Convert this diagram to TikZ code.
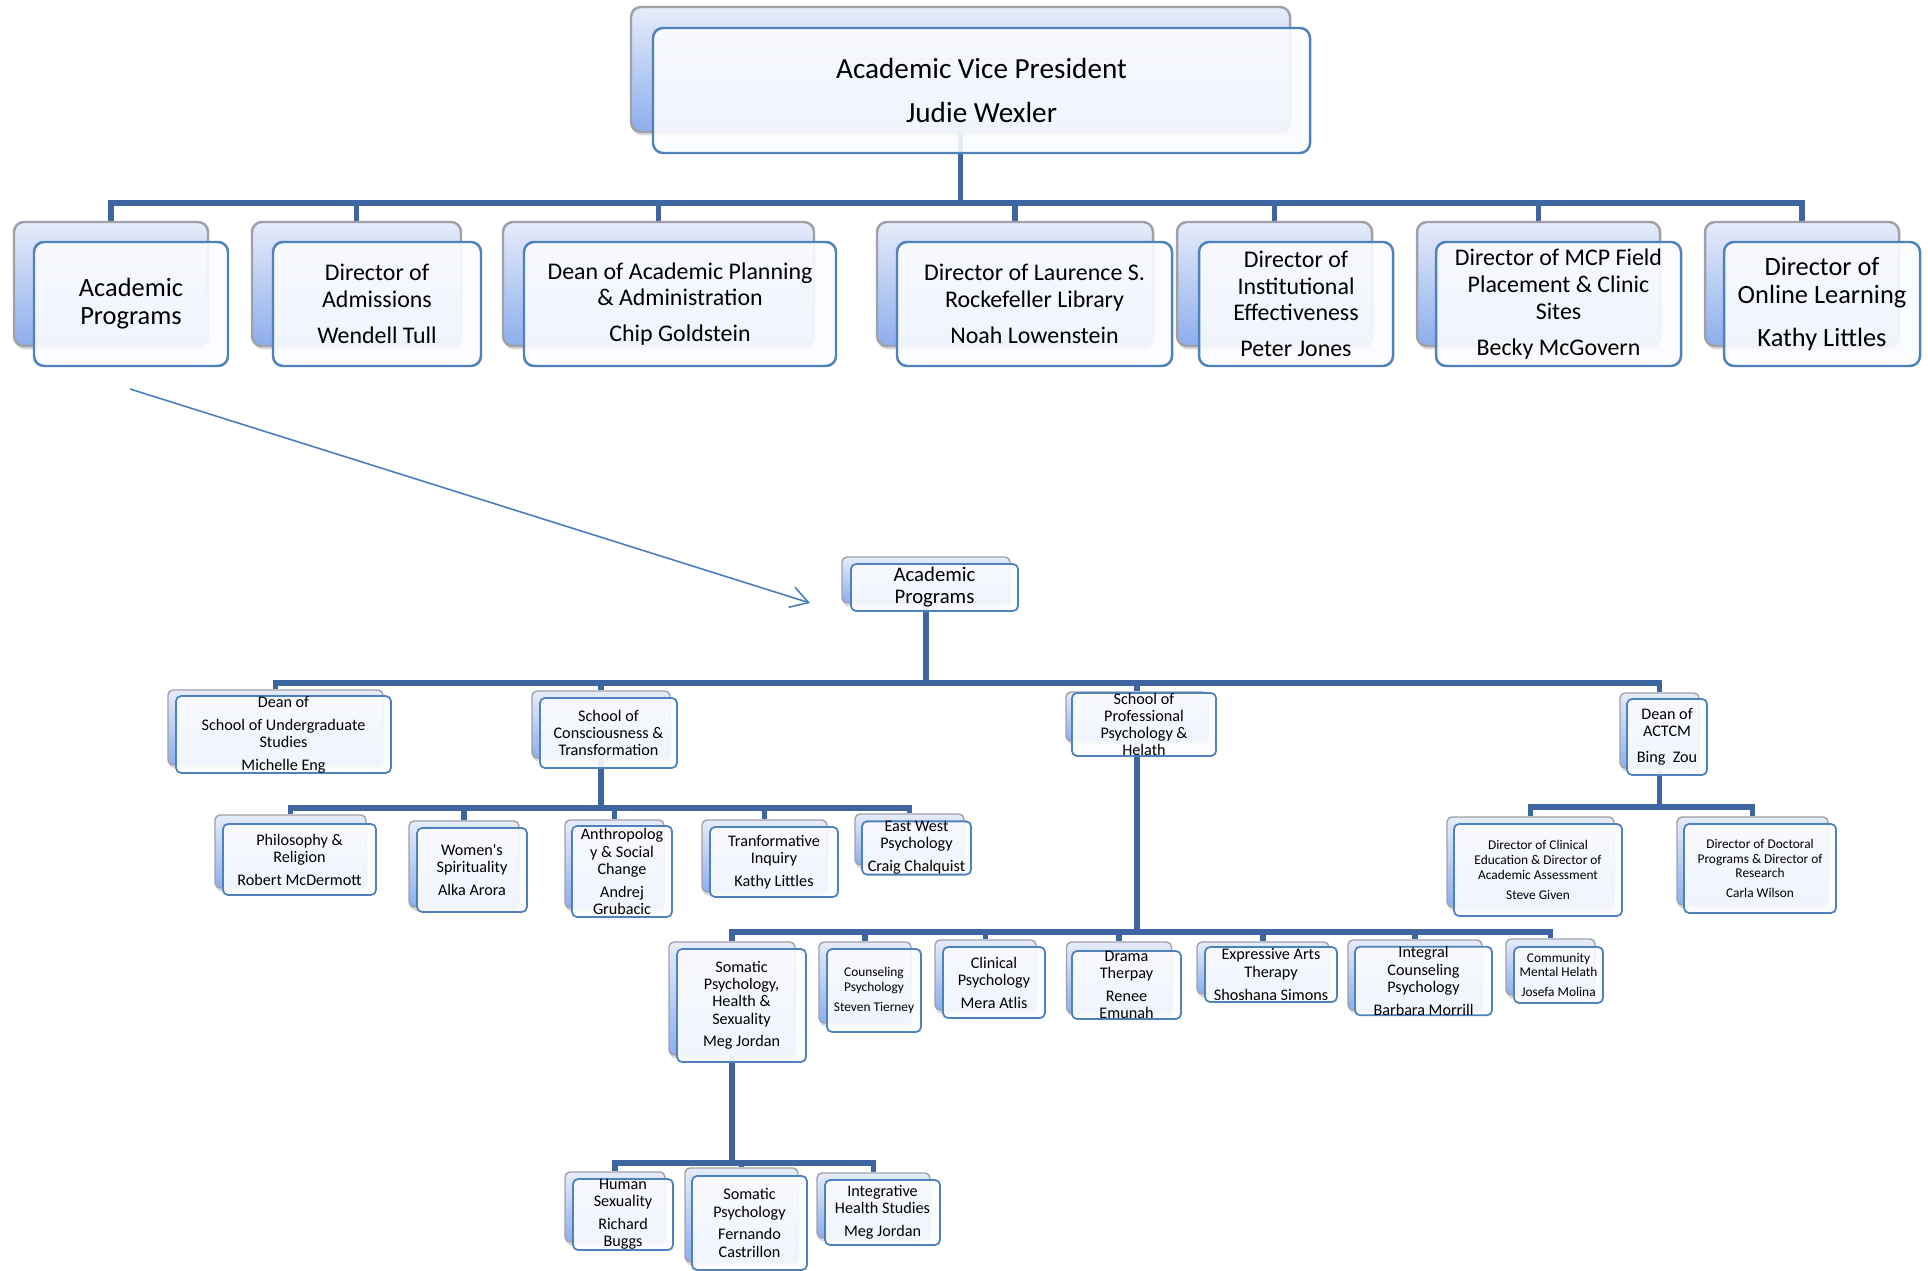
\documentclass[tikz,border=0pt]{standalone}
\usepackage{fontspec}
\setmainfont{Carlito}
\usetikzlibrary{arrows.meta,shadows,backgrounds}
\definecolor{linkblue}{HTML}{3F66A0}
\definecolor{edgeblue}{HTML}{4F81BD}
\definecolor{arrowblue}{HTML}{4A7DC0}
\definecolor{backtop}{HTML}{E6ECFA}
\definecolor{backbot}{HTML}{8DAEEC}
\definecolor{backedge}{HTML}{A0A0A8}
\definecolor{frontfill}{HTML}{FBFCFF}

\begin{document}
\begin{tikzpicture}[x=0.01cm, y=-0.01cm,
  wh/.style 2 args={minimum width=#1*0.01cm, minimum height=#2*0.01cm},
  cardback/.style={rectangle, rounded corners=0.05cm, draw=backedge, line width=0.4pt,
    top color=backtop, bottom color=backbot, inner sep=0pt,
    drop shadow={shadow xshift=0.01cm, shadow yshift=-0.035cm, opacity=0.3}},
  cardfront/.style={rectangle, rounded corners=0.05cm, draw=edgeblue, line width=0.5pt,
    fill=frontfill, fill opacity=0.9, text opacity=1, inner sep=0pt, align=center},
  big/.style={rounded corners=0.1cm, line width=0.7pt},
  txtA/.style={font=\fontsize{8.3}{12.5}\selectfont},
  txtB/.style={font=\fontsize{6.8}{7.6}\selectfont},
  txtBl/.style={font=\fontsize{7.5}{8}\selectfont},
  txtC/.style={font=\fontsize{5.9}{6.3}\selectfont},
  txtD/.style={font=\fontsize{4.6}{4.9}\selectfont},
  txtE/.style={font=\fontsize{3.8}{4.2}\selectfont},
  link/.style={draw=linkblue, line width=1.5pt},
  pointer/.style={draw=arrowblue, line width=0.45pt, -{Straight Barb[length=5pt,width=6pt]}}]

  \useasboundingbox (0,0) rectangle (1928,1271);

  % top
  \node[cardback, big, wh={659}{125}] (avpB) at (960.5,69.5) {};
  \node[cardfront, big, wh={657}{125}, txtA] (avp) at (981.5,90.5) {Academic Vice President\\Judie Wexler};

  % second row
  \node[cardback, big, wh={194}{124}] (acadB) at (111,284) {};
  \node[cardfront, big, wh={194}{124}, txtBl] (acad) at (131,304) {Academic\\Programs};
  \node[cardback, big, wh={209}{124}] (admB) at (356.5,284) {};
  \node[cardfront, big, wh={208}{124}, txtB] (adm) at (377,304) {Director of\\Admissions\\[2.6pt]Wendell Tull};
  \node[cardback, big, wh={311}{124}] (planB) at (658.5,284) {};
  \node[cardfront, big, wh={312}{124}, txtB] (plan) at (680,304) {Dean of Academic Planning\\\& Administration\\[2.6pt]Chip Goldstein};
  \node[cardback, big, wh={276}{124}] (libB) at (1015,284) {};
  \node[cardfront, big, wh={275}{124}, txtB] (lib) at (1034.5,304) {Director of Laurence S.\\Rockefeller Library\\[2.6pt]Noah Lowenstein};
  \node[cardback, big, wh={195}{124}] (instB) at (1274.5,284) {};
  \node[cardfront, big, wh={194}{124}, txtB] (inst) at (1296,304) {Director of\\Institutional\\Effectiveness\\[2.6pt]Peter Jones};
  \node[cardback, big, wh={243}{124}] (mcpB) at (1538.5,284) {};
  \node[cardfront, big, wh={245}{124}, txtB] (mcp) at (1558.5,304) {Director of MCP Field\\Placement \& Clinic\\Sites\\[2.6pt]Becky McGovern};
  \node[cardback, big, wh={194}{124}] (onlB) at (1802,284) {};
  \node[cardfront, big, wh={196}{124}, txtBl] (onl) at (1822,304) {Director of\\Online Learning\\[4pt]Kathy Littles};

  % academic programs
  \node[cardback, wh={168}{46}] (apB) at (926,580) {};
  \node[cardfront, wh={167}{47}, txtC] (ap) at (934.5,587.5) {Academic\\Programs};

  \node[cardback, wh={215}{75}] (ugradB) at (275.5,727.5) {};
  \node[cardfront, wh={215}{75}, txtD] (ugrad) at (283.5,734.5) {Dean of\\[1.6pt]School of Undergraduate\\Studies\\[1.6pt]Michelle Eng};
  \node[cardback, wh={138}{67}] (consB) at (601,724.5) {};
  \node[cardfront, wh={137}{70}, txtD] (cons) at (608.5,733) {School of\\Consciousness \&\\Transformation};
  \node[cardback, wh={142}{49}] (profB) at (1137,716.5) {};
  \node[cardfront, wh={144}{51}, txtD] (prof) at (1144,724.5) {School of\\Professional\\Psychology \&\\Helath};
  \node[cardback, wh={79}{75}] (actcmB) at (1659.5,730.5) {};
  \node[cardfront, wh={80}{76}, txtD] (actcm) at (1667,737) {Dean of\\ACTCM\\[2.4pt]Bing\ \ Zou};

  % consciousness & transformation
  \node[cardback, wh={151}{73}] (philB) at (290.5,851.5) {};
  \node[cardfront, wh={153}{71}, txtD] (phil) at (299.5,859.5) {Philosophy \&\\Religion\\[1.6pt]Robert McDermott};
  \node[cardback, wh={110}{86}] (womB) at (464,864) {};
  \node[cardfront, wh={110}{84}, txtD] (wom) at (472,870) {Women\textquotesingle s\\Spirituality\\[1.6pt]Alka Arora};
  \node[cardback, wh={99}{88}] (anthB) at (614.5,864) {};
  \node[cardfront, wh={100}{91}, txtD] (anth) at (622,871.5) {Anthropolog\\y \& Social\\Change\\[1.6pt]Andrej\\Grubacic};
  \node[cardback, wh={125}{72}] (tranB) at (764.5,856) {};
  \node[cardfront, wh={128}{70}, txtD] (tran) at (774,862) {Tranformative\\Inquiry\\[1.6pt]Kathy Littles};
  \node[cardback, wh={109}{51}] (eastB) at (909.5,839.5) {};
  \node[cardfront, wh={109}{50}, txtD] (east) at (916.5,848) {East West\\Psychology\\[1.6pt]Craig Chalquist};

  % actcm
  \node[cardback, wh={167}{90}] (clinB) at (1530.5,862) {};
  \node[cardfront, wh={168}{92}, txtE] (clin) at (1538,870) {Director of Clinical\\Education \& Director of\\Academic Assessment\\[1.5pt]Steve Given};
  \node[cardback, wh={151}{88}] (doctB) at (1752.5,861) {};
  \node[cardfront, wh={152}{89}, txtE] (doct) at (1760,868.5) {Director of Doctoral\\Programs \& Director of\\Research\\[1.5pt]Carla Wilson};

  % professional psychology
  \node[cardback, wh={126}{113}] (somaB) at (732,998.5) {};
  \node[cardfront, wh={129}{113}, txtD] (soma) at (741.5,1005.5) {Somatic\\Psychology,\\Health \&\\Sexuality\\[1.6pt]Meg Jordan};
  \node[cardback, wh={92}{81}] (counB) at (865,982.5) {};
  \node[cardfront, wh={94}{83}, txtE] (coun) at (874,990.5) {Counseling\\Psychology\\[1.5pt]Steven Tierney};
  \node[cardback, wh={101}{70}] (clpsB) at (985.5,975) {};
  \node[cardfront, wh={102}{71}, txtD] (clps) at (994,982.5) {Clinical\\Psychology\\[1.6pt]Mera Atlis};
  \node[cardback, wh={105}{71}] (dramaB) at (1119,977.5) {};
  \node[cardfront, wh={109}{68}, txtD] (drama) at (1126.5,985) {Drama\\Therpay\\[1.6pt]Renee\\Emunah};
  \node[cardback, wh={132}{52}] (exprB) at (1263,968) {};
  \node[cardfront, wh={132}{55}, txtD] (expr) at (1271,974.5) {Expressive Arts\\Therapy\\[1.6pt]Shoshana Simons};
  \node[cardback, wh={134}{70}] (integB) at (1415,975) {};
  \node[cardfront, wh={137}{68}, txtD] (integ) at (1423.5,981) {Integral\\Counseling\\Psychology\\[1.6pt]Barbara Morrill};
  \node[cardback, wh={89}{56}] (commB) at (1550.5,967) {};
  \node[cardfront, wh={89}{56}, txtE] (comm) at (1558.5,975) {Community\\Mental Helath\\[1.5pt]Josefa Molina};

  % somatic
  \node[cardback, wh={100}{70}] (hsexB) at (615,1207) {};
  \node[cardfront, wh={100}{71}, txtD] (hsex) at (623,1214.5) {Human\\Sexuality\\[1.6pt]Richard\\Buggs};
  \node[cardback, wh={113}{94}] (spsyB) at (741.5,1215) {};
  \node[cardfront, wh={115}{94}, txtD] (spsy) at (749.5,1223) {Somatic\\Psychology\\[1.6pt]Fernando\\Castrillon};
  \node[cardback, wh={113}{65}] (ihsB) at (873.5,1205.5) {};
  \node[cardfront, wh={115}{65}, txtD] (ihs) at (882.5,1212.5) {Integrative\\Health Studies\\[1.6pt]Meg Jordan};

  \coordinate (busA) at (0,203);
  \coordinate (busB) at (0,683);
  \coordinate (busC) at (0,808);
  \coordinate (busD) at (0,807);
  \coordinate (busE) at (0,932);
  \coordinate (busF) at (0,1163);

  \begin{scope}[on background layer]
    \foreach \kid in {acadB,admB,planB,libB,instB,mcpB,onlB}
      \draw[link] (avpB.south) -- (avpB.south |- busA) -| (\kid.north);
    \foreach \kid in {ugradB,consB,profB,actcmB}
      \draw[link] (apB.south) -- (apB.south |- busB) -| (\kid.north);
    \foreach \kid in {philB,womB,anthB,tranB,eastB}
      \draw[link] (consB.south) -- (consB.south |- busC) -| (\kid.north);
    \foreach \kid in {clinB,doctB}
      \draw[link] (actcmB.south) -- (actcmB.south |- busD) -| (\kid.north);
    \foreach \kid in {somaB,counB,clpsB,dramaB,exprB,integB,commB}
      \draw[link] (profB.south) -- (profB.south |- busE) -| (\kid.north);
    \foreach \kid in {hsexB,spsyB,ihsB}
      \draw[link] (somaB.south) -- (somaB.south |- busF) -| (\kid.north);
  \end{scope}

  \coordinate (ptrS) at (130,389);
  \coordinate (ptrE) at (810,603);
  \draw[pointer] (ptrS) -- (ptrE);
\end{tikzpicture}
\end{document}
